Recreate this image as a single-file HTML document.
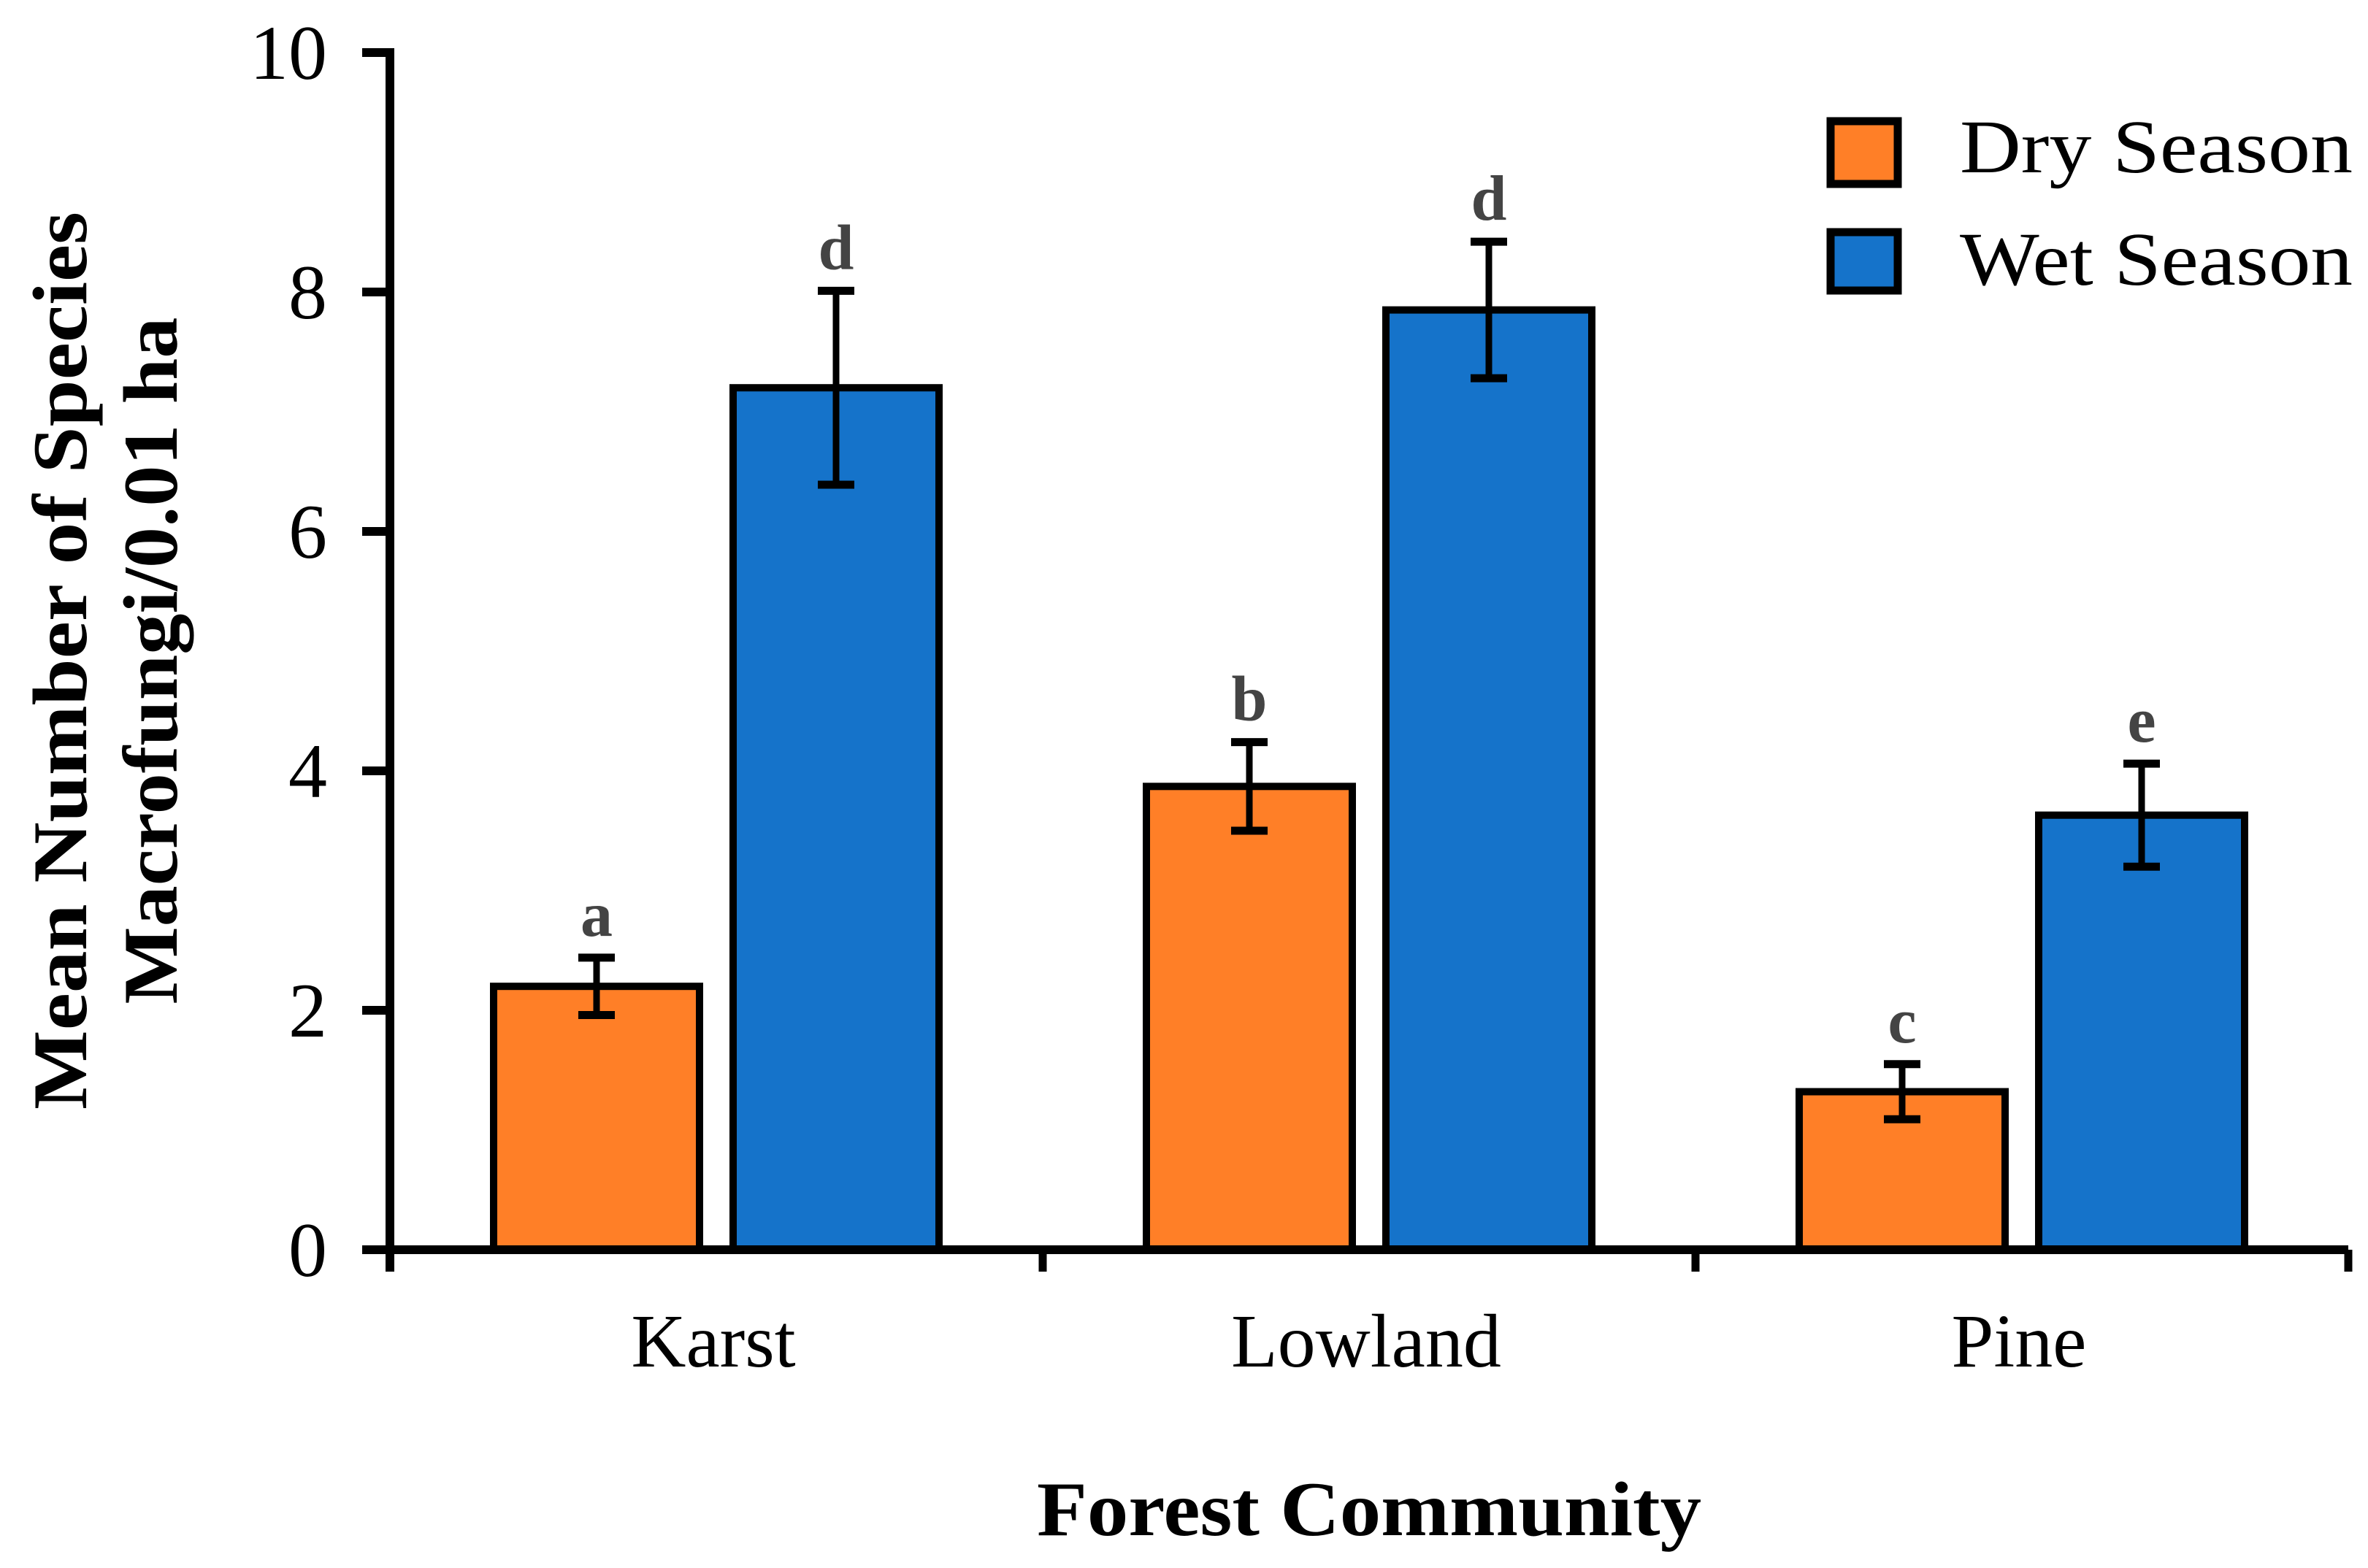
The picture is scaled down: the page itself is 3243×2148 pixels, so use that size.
<!DOCTYPE html>
<html><head><meta charset="utf-8"><style>
html,body{margin:0;padding:0;background:#fff;}
svg{display:block;font-family:"Liberation Serif",serif;}
</style></head><body>
<svg id="chart" width="3243" height="2148" viewBox="0 0 3243 2148" xmlns="http://www.w3.org/2000/svg">
<rect x="0" y="0" width="3243" height="2148" fill="#fff"/>
<g id="bars"></g>
<g id="axes"></g>
<text x="1875" y="2103" text-anchor="middle" font-size="106" font-weight="bold" textLength="910" lengthAdjust="spacingAndGlyphs">Forest Community</text>
<text transform="translate(118,905) rotate(-90)" text-anchor="middle" font-size="106" font-weight="bold" textLength="1230" lengthAdjust="spacingAndGlyphs">Mean Number of Species</text>
<text transform="translate(242,905) rotate(-90)" text-anchor="middle" font-size="106" font-weight="bold" textLength="941" lengthAdjust="spacingAndGlyphs">Macrofungi/0.01 ha</text>
<g>
<rect x="2507" y="166" width="92" height="86" fill="#FF7F27" stroke="#000" stroke-width="11"/>
<text x="2684" y="236" font-size="104" textLength="538" lengthAdjust="spacingAndGlyphs">Dry Season</text>
<rect x="2507" y="318" width="92" height="80" fill="#1573CA" stroke="#000" stroke-width="11"/>
<text x="2684" y="390" font-size="104" textLength="538" lengthAdjust="spacingAndGlyphs">Wet Season</text>
</g>
</svg>
<script>
const categories = ["Karst", "Lowland", "Pine"];
const dryValues = [2.2, 3.87, 1.32];
const wetValues = [7.2, 7.85, 3.63];
const dryErrors = [0.24, 0.37, 0.23];
const wetErrors = [0.81, 0.57, 0.43];
const dryLetters = ["a", "b", "c"];
const wetLetters = ["d", "d", "e"];
const yTicks = [0, 2, 4, 6, 8, 10];

const NS = "http://www.w3.org/2000/svg";
const X0 = 534, X1 = 3216, Y0 = 1712, Y1 = 72, YMAX = 10;
const groupW = (X1 - X0) / categories.length;
function yScale(v){ return Y0 - (v / YMAX) * (Y0 - Y1); }
function xGroup(i){ return X0 + groupW * (i + 0.5); }
function mk(tag, attrs, parent){
  const e = document.createElementNS(NS, tag);
  for (const k in attrs) e.setAttribute(k, attrs[k]);
  parent.appendChild(e);
  return e;
}
const bars = document.getElementById('bars');
const axes = document.getElementById('axes');
const barW = 282, off = 164;
const series = [
  {vals: dryValues, errs: dryErrors, letters: dryLetters, color: "#FF7F27", dx: -off, key: "dry"},
  {vals: wetValues, errs: wetErrors, letters: wetLetters, color: "#1573CA", dx: off, key: "wet"}
];
series.forEach(s => {
  categories.forEach((c, i) => {
    const cx = xGroup(i) + s.dx;
    const yt = yScale(s.vals[i]);
    const r = mk('rect', {x: cx - barW/2, y: yt, width: barW, height: Y0 - yt, fill: s.color, stroke: "#000", "stroke-width": 10}, bars);
    
    
    const eh = yScale(s.vals[i] + s.errs[i]), el = yScale(s.vals[i] - s.errs[i]);
    const g = mk('g', {stroke: "#000", "stroke-width": 9}, bars);
    
    
    mk('line', {x1: cx, x2: cx, y1: eh, y2: el}, g);
    mk('line', {x1: cx - 25, x2: cx + 25, y1: eh, y2: eh, "stroke-width": 11}, g);
    mk('line', {x1: cx - 25, x2: cx + 25, y1: el, y2: el, "stroke-width": 11}, g);
    const t = mk('text', {x: cx, y: eh - 30, "text-anchor": "middle", "font-size": 88, "font-weight": "bold", fill: "#444"}, bars);
    
    
    t.textContent = s.letters[i];
  });
});
const ya = mk('line', {x1: X0, x2: X0, y1: Y1 - 6, y2: Y0 + 30, stroke: "#000", "stroke-width": 12}, axes);


const xa = mk('line', {x1: X0 - 38, x2: X1, y1: Y0, y2: Y0, stroke: "#000", "stroke-width": 12}, axes);


yTicks.forEach(v => {
  const y = yScale(v);
  const tk = mk('line', {x1: X0 - 38, x2: X0, y1: y, y2: y, stroke: "#000", "stroke-width": 12}, axes);
  
  
  const lb = mk('text', {x: 448, y: y + 36, "text-anchor": "end", "font-size": 106}, axes);
  
  
  lb.textContent = v;
});
for (let i = 0; i <= categories.length; i++){
  const x = X0 + groupW * i;
  const tk = mk('line', {x1: x, x2: x, y1: Y0, y2: Y0 + 30, stroke: "#000", "stroke-width": 11}, axes);
  
  
}
categories.forEach((c, i) => {
  const lb = mk('text', {x: xGroup(i) - 4, y: 1872, "text-anchor": "middle", "font-size": 104}, axes);
  
  
  lb.textContent = c;
});
</script>
</body></html>
